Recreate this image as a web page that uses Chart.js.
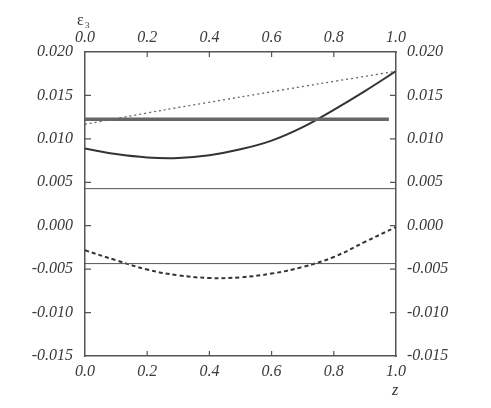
<!DOCTYPE html>
<html>
<head>
<meta charset="utf-8">
<script src="https://cdn.jsdelivr.net/npm/chart.js@4/dist/chart.umd.min.js"></script>
<style>
  html, body { margin: 0; padding: 0; background: #fff; }
  #wrap { width: 491px; height: 408px; position: relative; }
</style>
</head>
<body>
<div id="wrap"><canvas id="chart"></canvas></div>
<script>
// z positions for the two curves
const zCurve = [0, 0.1, 0.2, 0.3, 0.4, 0.5, 0.6, 0.7, 0.8, 0.9, 1.0];
const solidCurve = [0.00888, 0.00825, 0.00786, 0.00780, 0.00812, 0.00880, 0.00980, 0.01135, 0.01335, 0.01550, 0.01780];
const dashedCurve = [-0.00283, -0.00398, -0.00505, -0.00571, -0.00602, -0.00594, -0.00551, -0.00475, -0.00360, -0.00187, -0.00015];

// dotted (nearly straight) line
const zDotted = [0, 0.25, 0.5, 0.75, 1.0];
const dottedLine = [0.01168, 0.01330, 0.01482, 0.01632, 0.01778];

// horizontal levels
const zThick = [0, 0.977];
const thickLevel = [0.01225, 0.01225];
const zThin = [0, 1.0];
const thinUpper = [0.00427, 0.00427];
const thinLower = [-0.00436, -0.00436];

const xTicks = [0.2, 0.4, 0.6, 0.8];
const yTicks = [0.015, 0.010, 0.005, 0.000, -0.005, -0.010];

const pts = (xs, ys) => xs.map((x, i) => ({ x: x, y: ys[i] }));

const tickFont = { family: '"Liberation Serif", "DejaVu Serif", serif', size: 16, style: 'italic' };
const tickColor = '#3a3a3a';

// inward tick marks + axis symbols
const frameExtras = {
  id: 'frameExtras',
  afterDraw(chart) {
    const { ctx, chartArea: a } = chart;
    const sx = chart.scales.x, sy = chart.scales.y;
    ctx.save();
    ctx.strokeStyle = '#555';
    ctx.lineWidth = 1.2;
    ctx.beginPath();
    xTicks.forEach(v => {
      const px = sx.getPixelForValue(v);
      ctx.moveTo(px, a.top); ctx.lineTo(px, a.top + 5);
      ctx.moveTo(px, a.bottom); ctx.lineTo(px, a.bottom - 5);
    });
    yTicks.forEach(v => {
      const py = sy.getPixelForValue(v);
      ctx.moveTo(a.left, py); ctx.lineTo(a.left + 6, py);
      ctx.moveTo(a.right, py); ctx.lineTo(a.right - 6, py);
    });
    ctx.stroke();

    ctx.fillStyle = '#333';
    ctx.textBaseline = 'alphabetic';
    ctx.font = '16px "Liberation Serif", serif';
    ctx.fillText('ε', 77, 25);
    ctx.font = '9px "Liberation Serif", serif';
    ctx.fillText('3', 85, 28);
    ctx.font = 'italic 16px "Liberation Serif", serif';
    ctx.fillText('z', 392, 395);
    ctx.restore();
  }
};

const xScale = (pos, h, pad) => ({
  type: 'linear',
  position: pos,
  min: 0, max: 1,
  afterFit(s) { s.height = h; },
  afterBuildTicks(s) { s.ticks = [0, 0.2, 0.4, 0.6, 0.8, 1.0].map(v => ({ value: v })); },
  ticks: { padding: pad, font: tickFont, color: tickColor, maxRotation: 0, callback: v => v.toFixed(1) },
  grid: { display: false, drawTicks: false },
  border: { display: true, color: '#555', width: 1.5 }
});

const yScale = (pos, w, pad) => ({
  type: 'linear',
  position: pos,
  min: -0.015, max: 0.020,
  afterFit(s) { s.width = w; },
  afterBuildTicks(s) { s.ticks = [0.020, 0.015, 0.010, 0.005, 0, -0.005, -0.010, -0.015].map(v => ({ value: v })); },
  ticks: { padding: pad, font: tickFont, color: tickColor, callback: v => v.toFixed(3) },
  grid: { display: false, drawTicks: false },
  border: { display: true, color: '#555', width: 1.5 }
});

new Chart(document.getElementById('chart'), {
  type: 'line',
  data: {
    datasets: [
      { data: pts(zThick, thickLevel), borderColor: '#666', borderWidth: 3.5, pointRadius: 0, tension: 0 },
      { data: pts(zDotted, dottedLine), borderColor: '#666', borderWidth: 1.3, borderDash: [2, 3], pointRadius: 0, tension: 0.3 },
      { data: pts(zCurve, solidCurve), borderColor: '#333', borderWidth: 2, pointRadius: 0, tension: 0.4 },
      { data: pts(zThin, thinUpper), borderColor: '#555', borderWidth: 1, pointRadius: 0, tension: 0 },
      { data: pts(zThin, thinLower), borderColor: '#555', borderWidth: 1, pointRadius: 0, tension: 0 },
      { data: pts(zCurve, dashedCurve), borderColor: '#333', borderWidth: 2, borderDash: [4, 3], pointRadius: 0, tension: 0.4 }
    ]
  },
  options: {
    responsive: true,
    maintainAspectRatio: false,
    animation: false,
    layout: { padding: 0 },
    plugins: { legend: { display: false }, tooltip: { enabled: false } },
    scales: {
      x: xScale('bottom', 52, 6),
      x2: xScale('top', 52, 5),
      y: yScale('left', 85, 12),
      y2: yScale('right', 95, 11)
    }
  },
  plugins: [frameExtras]
});
</script>
</body>
</html>
